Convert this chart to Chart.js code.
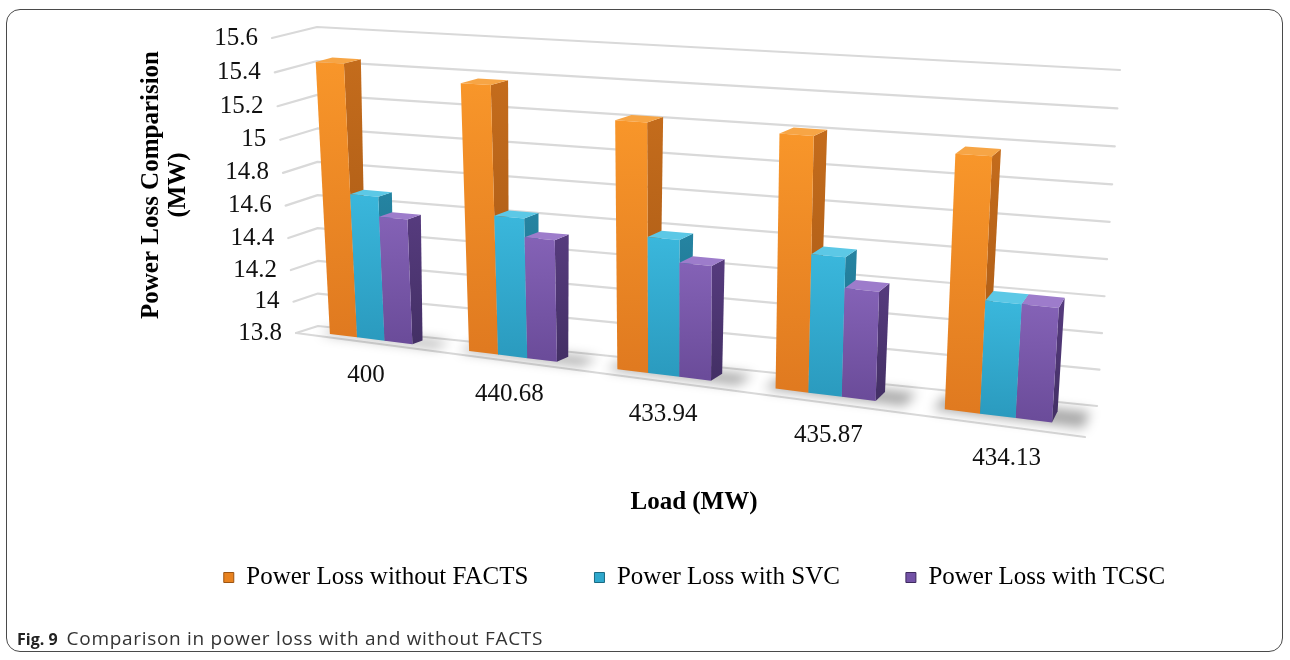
<!DOCTYPE html>
<html lang="en">
<head>
<meta charset="utf-8">
<title>Power loss comparison</title>
<script src="https://cdn.jsdelivr.net/npm/chart.js@4.4.1/dist/chart.umd.min.js"></script>
<style>
  html, body { margin: 0; padding: 0; background: #fff; }
  body { width: 1290px; height: 660px; position: relative; overflow: hidden; }
  .frame { position: absolute; left: 6px; top: 9px; width: 1277px; height: 643px; box-sizing: border-box;
           border: 1.5px solid #4a4a4a; border-radius: 14px; }
  #chart { position: absolute; left: 0; top: 0; }
  .caption { position: absolute; left: 17px; top: 625px; font-family: 'Open Sans', 'Noto Sans', sans-serif;
             font-size: 19px; letter-spacing: 0.7px; color: #333; white-space: nowrap; }
  .caption b { font-size: 16px; letter-spacing: 0; font-weight: 700; color: #222; margin-right: 9px; }
</style>
</head>
<body>
<div class="frame"></div>
<canvas id="chart" width="1290" height="660"></canvas>
<div class="caption"><b>Fig. 9</b>Comparison in power loss with and without FACTS</div>
<script>
// ---- data ----
const categories = ['400', '440.68', '433.94', '435.87', '434.13'];
const seriesNames = ['Power Loss without FACTS', 'Power Loss with SVC', 'Power Loss with TCSC'];
const lossWithoutFacts = [15.45, 15.38, 15.23, 15.22, 15.18];
const lossWithSvc = [14.68, 14.63, 14.59, 14.58, 14.42];
const lossWithTcsc = [14.56, 14.52, 14.46, 14.41, 14.42];
const axisMin = 13.8;
const axisMax = 15.6;
const axisStep = 0.2;
const xTitle = 'Load (MW)';
const yTitle = ['Power Loss Comparision', '(MW)'];

// ---- styling ----
const shades = [
  { top: '#f7a545', light: '#f8962a', dark: '#e07a20', side: '#c46c1c', sideDark: '#a65815', key: '#e8821f', keyEdge: '#9c5412' },
  { top: '#5cc8e6', light: '#3ab7dc', dark: '#2b9bbf', side: '#2584a2', sideDark: '#1c6b86', key: '#2fa8cc', keyEdge: '#1a6a82' },
  { top: '#9d7ccb', light: '#8462b6', dark: '#6b4c9a', side: '#563b7e', sideDark: '#443066', key: '#7352a6', keyEdge: '#3e2a5e' }
];
const serifFamily = '"Liberation Serif", "Times New Roman", serif';
const labelFont = `normal 400 25px ${serifFamily}`;
const titleFont = `normal 700 25px ${serifFamily}`;

// Perspective frame of the plot: back wall and front plane, corners TL, TR, BR, BL.
// Depth d runs from 0 (back wall) to 1 (front edge of the floor).
const view = {
  back:  [[317, 27], [1120, 70], [1097, 406], [318, 326]],
  front: [[272, 38], [1107, 85], [1085, 437], [296, 333]],
  barFront: 0.68,
  barBack: 0.3
};

// projective map of the unit square onto a quadrilateral
function squareToQuad(q) {
  const [p0, p1, p2, p3] = q;
  const dx1 = p1[0] - p2[0], dx2 = p3[0] - p2[0], dx3 = p0[0] - p1[0] + p2[0] - p3[0];
  const dy1 = p1[1] - p2[1], dy2 = p3[1] - p2[1], dy3 = p0[1] - p1[1] + p2[1] - p3[1];
  const den = dx1 * dy2 - dx2 * dy1;
  const g = (dx3 * dy2 - dx2 * dy3) / den;
  const h = (dx1 * dy3 - dx3 * dy1) / den;
  const a = p1[0] - p0[0] + g * p1[0], b = p3[0] - p0[0] + h * p3[0], c = p0[0];
  const d = p1[1] - p0[1] + g * p1[1], e = p3[1] - p0[1] + h * p3[1], f = p0[1];
  return (u, v) => {
    const w = g * u + h * v + 1;
    return [(a * u + b * v + c) / w, (d * u + e * v + f) / w];
  };
}

function poly(ctx, pts, fill) {
  ctx.beginPath();
  ctx.moveTo(pts[0][0], pts[0][1]);
  for (let i = 1; i < pts.length; i++) ctx.lineTo(pts[i][0], pts[i][1]);
  ctx.closePath();
  ctx.fillStyle = fill;
  ctx.fill();
}

function polyline(ctx, pts) {
  ctx.beginPath();
  ctx.moveTo(pts[0][0], pts[0][1]);
  for (let i = 1; i < pts.length; i++) ctx.lineTo(pts[i][0], pts[i][1]);
  ctx.stroke();
}

const perspectivePlugin = {
  id: 'perspective',
  beforeDatasetsDraw(chart) {
    const { ctx, chartArea: ca } = chart;
    const xs = chart.scales.x, ys = chart.scales.y;
    const backQ = squareToQuad(view.back), frontQ = squareToQuad(view.front);
    const P = (u, t, d) => {
      const b = backQ(u, t), f = frontQ(u, t);
      return [b[0] + (f[0] - b[0]) * d, b[1] + (f[1] - b[1]) * d];
    };
    const U = px => (px - ca.left) / ca.width;
    const T = py => (Math.min(Math.max(py, ca.top), ca.bottom) - ca.top) / ca.height;

    let ticks = ys.ticks;
    if (!ticks || !ticks.length) {
      ticks = [];
      for (let v = axisMin; v <= axisMax + 1e-9; v += axisStep) ticks.push({ value: +v.toFixed(1) });
    }

    ctx.save();
    // back wall and side wall gridlines
    ctx.strokeStyle = '#d9d9d9';
    ctx.lineWidth = 2.2;
    ctx.lineCap = 'round';
    ctx.lineJoin = 'round';
    ticks.forEach(tk => {
      const t = T(ys.getPixelForValue(tk.value));
      polyline(ctx, [P(0, t, 1), P(0, t, 0), P(1, t, 0)]);
    });
    // front edge of the floor
    polyline(ctx, [P(0, 1, 1), P(1, 1, 1)]);

    // value labels along the side wall
    ctx.fillStyle = '#111';
    ctx.font = labelFont;
    ctx.textAlign = 'right';
    ctx.textBaseline = 'middle';
    ticks.forEach(tk => {
      const t = T(ys.getPixelForValue(tk.value));
      const p = P(0, t, 1);
      ctx.fillText(String(+Number(tk.value).toFixed(1)), p[0] - 14, p[1]);
    });

    const metas = chart.getSortedVisibleDatasetMetas();
    const dF = view.barFront, dB = view.barBack;

    categories.forEach((_, i) => {
      const els = metas.map(m => m.data[i]);
      const first = els[0], last = els[els.length - 1];
      const g0 = U(first.x - first.width / 2), g1 = U(last.x + last.width / 2);

      // soft floor shadow under the group
      ctx.save();
      ctx.filter = 'blur(6px)';
      poly(ctx, [P(g0 - 0.012, 1, 0.2), P(g1 + 0.035, 1, 0.2), P(g1 + 0.035, 1, 0.74), P(g0 - 0.012, 1, 0.74)], 'rgba(0,0,0,0.34)');
      ctx.restore();

      metas.forEach(m => {
        const el = m.data[i];
        const sh = shades[m.index];
        const u0 = U(el.x - el.width / 2), u1 = U(el.x + el.width / 2);
        const t0 = T(el.y), t1 = T(el.base);
        const A = P(u0, t0, dF), B = P(u1, t0, dF), C = P(u1, t1, dF), D = P(u0, t1, dF);
        const E = P(u0, t0, dB), F = P(u1, t0, dB), G = P(u1, t1, dB);

        const sg = ctx.createLinearGradient(F[0], F[1], G[0], G[1]);
        sg.addColorStop(0, sh.side);
        sg.addColorStop(1, sh.sideDark);
        poly(ctx, [B, F, G, C], sg);

        poly(ctx, [A, B, F, E], sh.top);

        const fg = ctx.createLinearGradient(A[0], A[1], D[0], D[1]);
        fg.addColorStop(0, sh.light);
        fg.addColorStop(1, sh.dark);
        poly(ctx, [A, B, C, D], fg);
      });

      // category label in front of the floor
      const uc = U(xs.getPixelForValue(i));
      const p = P(uc, 1, 1);
      ctx.fillStyle = '#111';
      ctx.font = labelFont;
      ctx.textAlign = 'center';
      ctx.textBaseline = 'middle';
      ctx.fillText(xs.getLabelForValue(i), p[0] + 2 + 14 * uc, p[1] + 34);
    });

    // axis titles
    ctx.fillStyle = '#000';
    ctx.font = titleFont;
    ctx.textAlign = 'center';
    ctx.textBaseline = 'middle';
    ctx.fillText(xTitle, 694, 503);
    ctx.save();
    ctx.translate(152, 185);
    ctx.rotate(-Math.PI / 2);
    ctx.fillText(yTitle[0], 0, 0);
    ctx.fillText(yTitle[1], 0, 27);
    ctx.restore();

    ctx.restore();
    return false;
  }
};

function buildChart() {
  new Chart(document.getElementById('chart'), {
    type: 'bar',
    data: {
      labels: categories,
      datasets: [lossWithoutFacts, lossWithSvc, lossWithTcsc].map((values, k) => ({
        label: seriesNames[k],
        data: values,
        backgroundColor: shades[k].key,
        borderColor: shades[k].keyEdge,
        borderWidth: 1,
        categoryPercentage: 0.6,
        barPercentage: 1
      }))
    },
    options: {
      responsive: false,
      animation: false,
      devicePixelRatio: 1,
      layout: { padding: { left: 99, right: 0, top: 0, bottom: 60 } },
      scales: {
        x: { display: false, offset: true },
        y: { display: false, min: axisMin, max: axisMax, ticks: { stepSize: axisStep } }
      },
      plugins: {
        legend: {
          position: 'bottom',
          labels: {
            font: { family: serifFamily, size: 25, weight: 'normal' },
            color: '#000', boxWidth: 10, boxHeight: 10, padding: 66
          }
        },
        tooltip: { enabled: false }
      }
    },
    plugins: [perspectivePlugin]
  });
}

const fontReady = document.fonts
  ? Promise.all([document.fonts.load(labelFont), document.fonts.load(titleFont)]).catch(() => null)
  : Promise.resolve();
fontReady.then(buildChart, buildChart);
</script>
</body>
</html>
